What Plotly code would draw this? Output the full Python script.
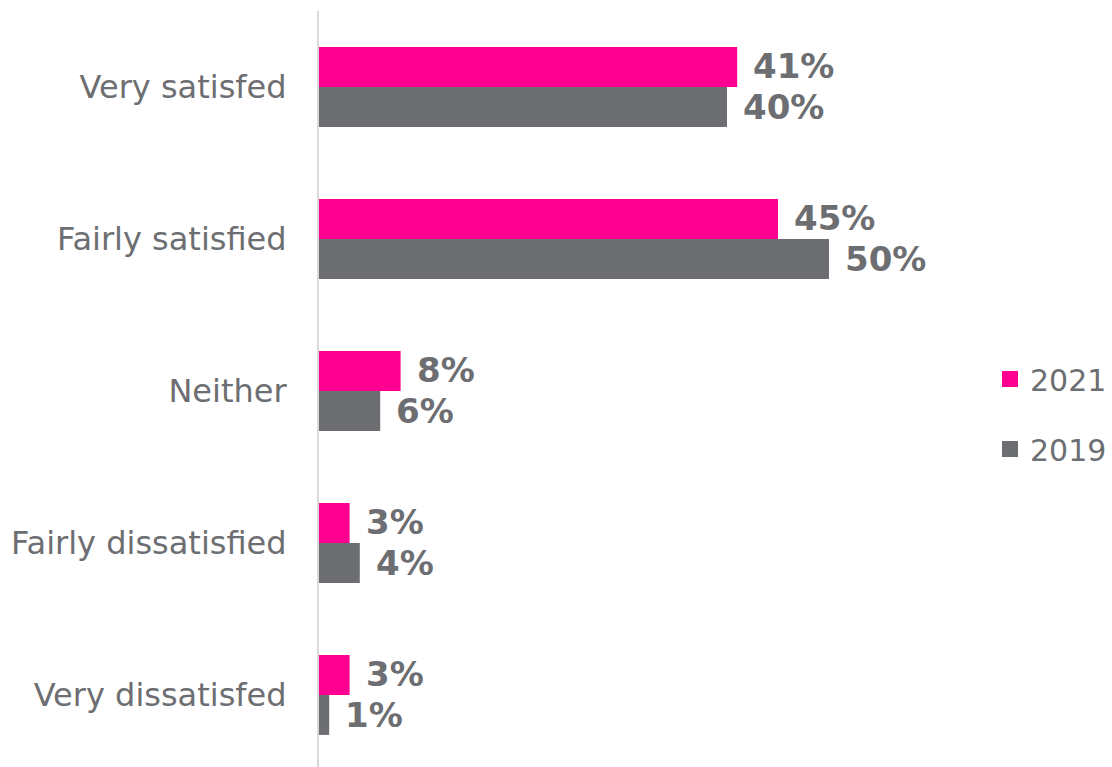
import plotly.graph_objects as go

# Survey responses, shares in percent
categories = ["Very satisfed", "Fairly satisfied", "Neither", "Fairly dissatisfied", "Very dissatisfed"]
series_names = ["2021", "2019"]
values_2021 = [41, 45, 8, 3, 3]
values_2019 = [40, 50, 6, 4, 1]

PINK = "#FF0090"
GREY = "#6D6E71"
TEXT = "#6D6E71"
FONT = "DejaVu Sans, Verdana, sans-serif"

W, H = 1112, 767
M_L, M_R, M_T, M_B = 319, 181, 11, 0

fig = go.Figure()
series = [(series_names[0], values_2021, PINK, 21), (series_names[1], values_2019, GREY, -20)]

for name, vals, color, dy in series:
    fig.add_trace(go.Bar(
        y=categories, x=vals, orientation="h", name=name,
        marker=dict(color=color, line=dict(width=0)),
        showlegend=False, hoverinfo="skip",
    ))

# Legend entries with larger square swatches
for i, (name, vals, color, dy) in enumerate(series):
    fig.add_trace(go.Scatter(
        x=[None], y=[None], mode="markers", name=name, legendgroup=name,
        marker=dict(symbol="square", size=18, color=color),
    ))

# Value labels just past the end of each bar
annotations = []
for name, vals, color, dy in series:
    for cat, v in zip(categories, vals):
        annotations.append(dict(
            x=v, y=cat, xref="x", yref="y", text=f"{v}%", showarrow=False,
            xanchor="left", yanchor="middle", xshift=14, yshift=dy,
            font=dict(family=FONT, size=34, color=TEXT, weight="bold"),
        ))

plot_w = W - M_L - M_R
plot_h = H - M_T - M_B
legend_x = (990 - M_L) / plot_w
legend_y = 1 - (414 - M_T) / plot_h

fig.update_layout(
    width=W, height=H,
    margin=dict(l=M_L, r=M_R, t=M_T, b=M_B),
    paper_bgcolor="white", plot_bgcolor="white",
    barmode="group", bargap=0.474, bargroupgap=0,
    annotations=annotations,
    showlegend=True,
    legend=dict(
        x=legend_x, y=legend_y, xanchor="left", yanchor="middle",
        font=dict(family=FONT, size=30, color=TEXT),
        tracegroupgap=28, traceorder="grouped", bgcolor="rgba(0,0,0,0)",
    ),
    xaxis=dict(range=[0, 60], visible=False, fixedrange=True),
    yaxis=dict(
        type="category", categoryorder="array", categoryarray=categories,
        range=[4.474, -0.5], autorange=False,
        showline=True, linecolor="#D9D9D9", linewidth=2,
        showgrid=False, zeroline=False, ticks="",
        ticklabelstandoff=24,
        tickfont=dict(family=FONT, size=32, color=TEXT),
    ),
)

fig.write_html("out.html")
